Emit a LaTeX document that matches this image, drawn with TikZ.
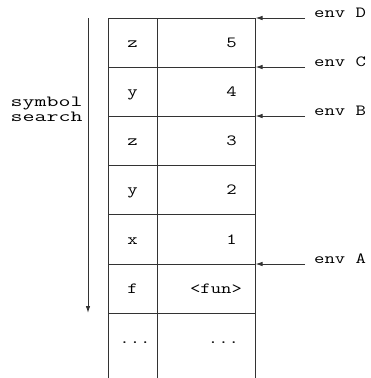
\documentclass[tikz,border=0pt]{standalone}
\usepackage{fontspec}
\newfontfamily\courfont{Latin Modern Mono}[FakeStretch=1.3]
\newfontfamily\courwide{Latin Modern Mono}[FakeStretch=1.5]
\usetikzlibrary{arrows.meta}
\begin{document}
\begin{tikzpicture}[x=1pt,y=-1pt,
  gridline/.style={line width=0.9pt, draw=black!80},
  txt/.style={font=\courfont\fontsize{15.5}{15.5}\selectfont, inner sep=0pt, anchor=base},
  lbl/.style={txt, anchor=base west},
  side/.style={lbl, font=\courwide\fontsize{15.5}{15.5}\selectfont},
  ptr/.style={line width=0.9pt, draw=black!80, -{Latex[length=7pt,width=4.5pt]}},
]
\useasboundingbox (0,0) rectangle (370,378);

% frame of the environment table (open at the bottom)
\draw[gridline] (108,378) -- (108,18) -- (255,18) -- (255,378);
\draw[gridline] (157,18) -- (157,378);
\foreach \y in {67,116,165,214,264,313}
  \draw[gridline] (108,\y) -- (255,\y);

% symbol column
\node[txt] (n1) at (132.5,47.5) {z};
\node[txt] (n2) at (132.5,96.5) {y};
\node[txt] (n3) at (132.5,145.5) {z};
\node[txt] (n4) at (132.5,194.5) {y};
\node[txt] (n5) at (132.5,244) {x};
\node[txt] (n6) at (132.5,293.5) {f};
\node[txt] (n7) at (135,343) {...};

% value column
\node[txt] (v1) at (231.5,47.5) {5};
\node[txt] (v2) at (231.5,96.5) {4};
\node[txt] (v3) at (231.5,145.5) {3};
\node[txt] (v4) at (231.5,194.5) {2};
\node[txt] (v5) at (231.5,244) {1};
\node[txt] (v6) at (216,293.5) {<fun>};
\node[txt] (v7) at (223.5,343) {...};

% environment pointers
\coordinate (eD) at (255.5,18);
\coordinate (eC) at (255.5,67);
\coordinate (eB) at (255.5,116);
\coordinate (eA) at (255.5,264);
\coordinate (sD) at (305,18);
\coordinate (sC) at (305,67);
\coordinate (sB) at (305,116);
\coordinate (sA) at (305,264);
\draw[ptr] (sD) -- (eD);
\draw[ptr] (sC) -- (eC);
\draw[ptr] (sB) -- (eB);
\draw[ptr] (sA) -- (eA);
\node[lbl] (envD) at (314,17.5) {env D};
\node[lbl] (envC) at (314,66.5) {env C};
\node[lbl] (envB) at (314,115.5) {env B};
\node[lbl] (envA) at (314,263.5) {env A};

% lookup direction
\coordinate (st) at (88,18);
\coordinate (sE) at (88,313);
\draw[ptr] (st) -- (sE);
\node[side] (sym1) at (10.5,106) {symbol};
\node[side] (sym2) at (10.5,121) {search};
\end{tikzpicture}
\end{document}
